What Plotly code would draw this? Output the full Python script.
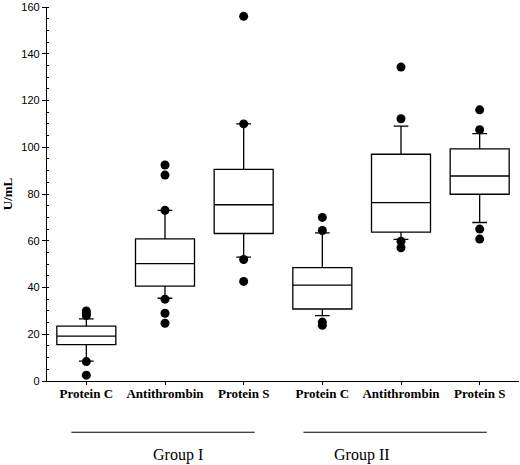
import plotly.graph_objects as go

# Box statistics (U/mL)
categories = ['Protein C', 'Antithrombin', 'Protein S', 'Protein C', 'Antithrombin', 'Protein S']
positions = [1, 2, 3, 4, 5, 6]
q1 = [15.6, 40.6, 63.1, 30.8, 63.7, 79.9]
median = [19.2, 50.2, 75.4, 41.0, 76.3, 87.7]
q3 = [23.5, 60.8, 90.5, 48.5, 97.0, 99.3]
lower_whisker = [8.5, 35.4, 53.0, 28.0, 60.6, 67.8]
upper_whisker = [26.6, 73.0, 110.0, 63.4, 109.0, 105.8]

# Outlying points
outlier_x = [1, 1, 1, 1, 1,
             2, 2, 2, 2, 2, 2,
             3, 3, 3, 3,
             4, 4, 4, 4,
             5, 5, 5, 5,
             6, 6, 6, 6]
outlier_y = [30.0, 29.0, 28.0, 8.3, 2.5,
             92.4, 88.1, 73.0, 35.0, 29.0, 24.7,
             156.0, 110.0, 52.0, 42.6,
             70.0, 64.4, 25.2, 23.8,
             134.3, 112.2, 59.8, 57.0,
             116.0, 107.5, 65.0, 60.7]

groups = ['Group I', 'Group II']
group_label_x = [2.16, 4.51]
group_line_x = [(0.81, 3.14), (3.76, 6.09)]

fig = go.Figure()

for i in range(len(positions)):
    fig.add_trace(go.Box(
        x=[positions[i]], q1=[q1[i]], median=[median[i]], q3=[q3[i]],
        lowerfence=[lower_whisker[i]], upperfence=[upper_whisker[i]],
        width=0.75, whiskerwidth=0.25, boxpoints=False,
        fillcolor='white', line=dict(color='black', width=1.3),
        showlegend=False, hoverinfo='skip'
    ))

fig.add_trace(go.Scatter(
    x=outlier_x, y=outlier_y, mode='markers',
    marker=dict(color='black', size=9), showlegend=False, cliponaxis=False
))

for (x0, x1) in group_line_x:
    fig.add_shape(type='line', xref='x', yref='paper', x0=x0, x1=x1, y0=-0.137, y1=-0.137,
                  line=dict(color='black', width=1))

for gx, g in zip(group_label_x, groups):
    fig.add_annotation(x=gx, y=-0.198, xref='x', yref='paper', yanchor='middle',
                       text=g, showarrow=False,
                       font=dict(family='Liberation Serif', size=16, color='black'))

fig.update_layout(
    width=520, height=465,
    margin=dict(l=47, r=1, t=7, b=84),
    paper_bgcolor='white', plot_bgcolor='white',
    font=dict(family='Liberation Sans', color='black'),
    xaxis=dict(
        range=[0.5, 6.5], tickvals=positions, ticktext=categories,
        showline=True, linecolor='black', linewidth=1.3,
        ticks='outside', ticklen=3, tickcolor='black', ticklabelstandoff=-3,
        tickfont=dict(family='Liberation Serif', size=13, color='black', weight='bold'),
        showgrid=False, zeroline=False, automargin=False
    ),
    yaxis=dict(
        range=[0, 160], dtick=20,
        showline=True, linecolor='black', linewidth=1.3,
        ticks='outside', ticklen=4, tickcolor='black',
        tickfont=dict(family='Liberation Sans', size=11, color='black'),
        ticklabeloverflow='allow',
        minor=dict(dtick=5, ticks='inside', ticklen=2, tickcolor='black'),
        title=dict(text='U/mL', standoff=8,
                   font=dict(family='Liberation Serif', size=13, color='black', weight='bold')),
        showgrid=False, zeroline=False, automargin=False
    )
)

# drop the page's default body margin so the figure sits at the window corner
fig.write_html("out.html", config={'displayModeBar': False},
               post_script="document.body.style.margin='0';")
